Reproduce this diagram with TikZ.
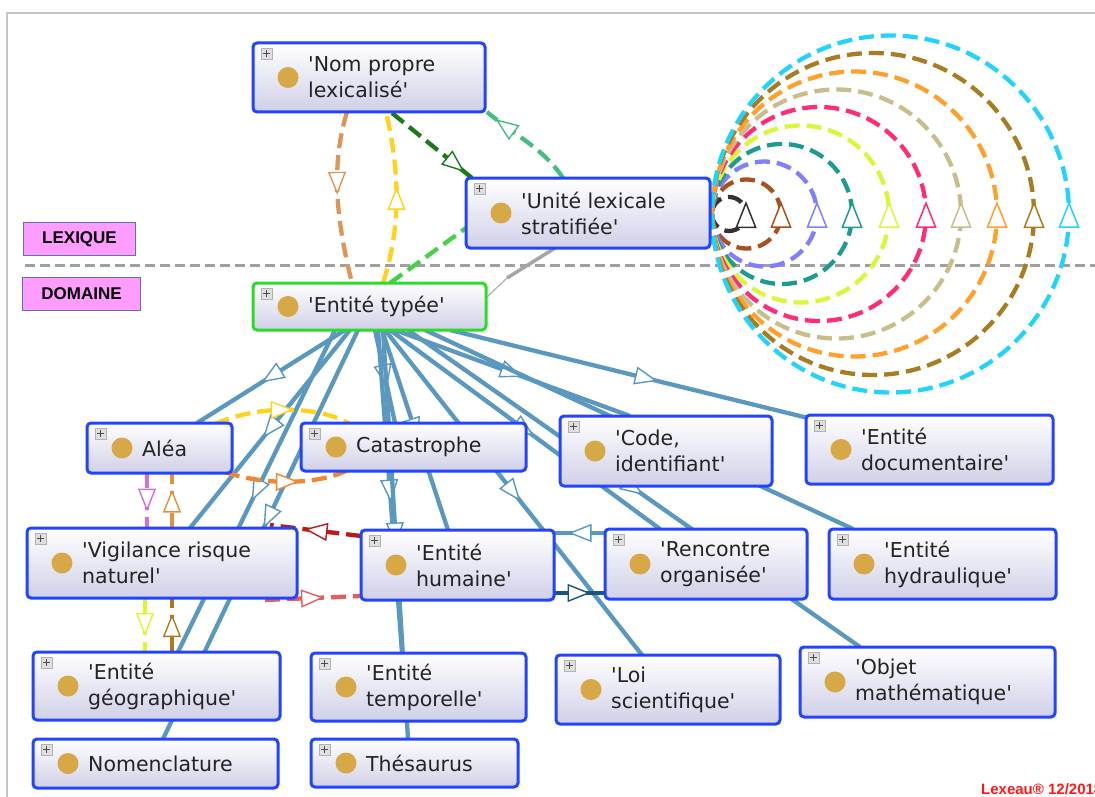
\documentclass[tikz,border=0pt]{standalone}
\usepackage{fontspec}
\usetikzlibrary{arrows.meta,decorations.markings,calc}
\newfontfamily\labf{DejaVu Sans}
\newfontfamily\tagf{Liberation Sans}
\pgfdeclarelayer{bottom}
\pgfdeclarelayer{background}
\pgfsetlayers{bottom,background,main}
\newcommand\q{\textquotesingle}
\definecolor{eblue}{RGB}{90,152,192}
\definecolor{bborder}{RGB}{34,68,255}
\definecolor{gborder}{RGB}{40,220,40}
\definecolor{boxbot}{RGB}{208,208,232}
\definecolor{dotc}{RGB}{214,168,70}
\definecolor{txt}{RGB}{35,35,35}
\definecolor{tagpink}{RGB}{255,156,255}
\definecolor{tagline}{RGB}{96,112,170}
\definecolor{sepgray}{RGB}{160,160,160}
\definecolor{tanc}{RGB}{220,150,90}
\definecolor{yelc}{RGB}{255,210,30}
\definecolor{dgreen}{RGB}{30,120,30}
\definecolor{sgreen}{RGB}{70,190,130}
\definecolor{lgreen}{RGB}{70,210,70}
\definecolor{ggray}{RGB}{165,165,165}
\definecolor{orac}{RGB}{240,135,50}
\definecolor{violc}{RGB}{210,110,225}
\definecolor{ora3}{RGB}{225,145,65}
\definecolor{limec}{RGB}{225,245,40}
\definecolor{brnc}{RGB}{175,120,35}
\definecolor{dred}{RGB}{185,25,25}
\definecolor{salc}{RGB}{225,95,95}
\definecolor{dblue}{RGB}{25,85,125}
\definecolor{la}{RGB}{50,50,50}
\definecolor{lb}{RGB}{170,80,30}
\definecolor{lc}{RGB}{128,128,255}
\definecolor{ld}{RGB}{30,155,145}
\definecolor{le}{RGB}{220,245,55}
\definecolor{lf}{RGB}{255,45,120}
\definecolor{lg}{RGB}{200,190,140}
\definecolor{lh}{RGB}{255,160,45}
\definecolor{li}{RGB}{168,124,32}
\definecolor{lj}{RGB}{34,212,250}
\tikzset{
  obox/.style={rectangle, rounded corners=4pt, line width=3pt, top color=white, bottom color=boxbot, inner sep=0pt, outer sep=0pt},
  pbox/.style={rectangle, minimum size=11pt, inner sep=0pt, fill=gray!25, draw=gray!60, line width=0.6pt},
  plusl/.style={line width=0.9pt, draw=black!70},
  gdot/.style={circle, minimum size=21pt, inner sep=0pt, fill=dotc},
  ltext/.style={font={\labf\fontsize{20.5}{26}\selectfont}, text=txt, align=left, inner sep=0pt},
  tagbox/.style={rectangle, fill=tagpink, draw=tagline, line width=1pt, font={\tagf\bfseries\fontsize{17}{20}\selectfont}, inner sep=0pt, anchor=north west},
  marr/.style={postaction={decorate}, decoration={markings, mark=at position #1 with {\arrow[xshift=11pt]{Triangle[length=23pt,width=18pt,fill=white,line width=1.4pt]}}}},
  larr/.style={postaction={decorate}, decoration={markings, mark=at position #1 with {\arrow[xshift=13pt]{Triangle[length=27pt,width=21pt,fill=white,line width=1.5pt]}}}},
  bl/.style={draw=eblue, line width=4.3pt},
  dsh/.style={line width=4.3pt, dash pattern=on 15pt off 7pt},
  sepl/.style={draw=sepgray, line width=3pt, dash pattern=on 10pt off 5pt},
}
\newcommand\onode[7]{%
  \node[obox, draw=#7, minimum width=#4pt, minimum height=#5pt, anchor=north west] (#1) at (#2,#3) {};
  \node[pbox, anchor=north west] (#1-p) at ($(#1.north west)+(8,5)$) {};
  \draw[plusl] ($(#1-p.center)+(-3.5,0)$) -- ($(#1-p.center)+(3.5,0)$) ($(#1-p.center)+(0,-3.5)$) -- ($(#1-p.center)+(0,3.5)$);
  \node[gdot] (#1-d) at ($(#1.west)+(35,0)$) {};
  \node[ltext, anchor=west] (#1-t) at ($(#1.west)+(55,0)$) {#6};
}
\begin{document}
\begin{tikzpicture}[x=1pt,y=-1pt]
\useasboundingbox (0,0) rectangle (1095,797);
\begin{pgfonlayer}{bottom}
\fill[white] (0,0) rectangle (1095,797);
\draw[gray!45, line width=1.5pt] (7,797) -- (7,13) -- (1095,13);
\end{pgfonlayer}

\onode{np}{253}{43}{232}{69}{\q Nom propre\\lexicalisé\q}{bborder}
\onode{ul}{466}{178}{244}{70}{\q Unité lexicale\\stratifiée\q}{bborder}
\onode{et}{253}{283}{233}{47}{\q Entité typée\q}{gborder}
\onode{alea}{87}{423}{145}{50}{Aléa}{bborder}
\onode{cat}{301}{423}{225}{48}{Catastrophe}{bborder}
\onode{code}{560}{416}{212}{70}{\q Code,\\identifiant\q}{bborder}
\onode{doc}{806}{415}{247}{69}{\q Entité\\documentaire\q}{bborder}
\onode{vig}{27}{528}{270}{70}{\q Vigilance risque\\naturel\q}{bborder}
\onode{hum}{361}{530}{193}{70}{\q Entité\\humaine\q}{bborder}
\onode{ren}{605}{529}{202}{70}{\q Rencontre\\organisée\q}{bborder}
\onode{hyd}{829}{529}{227}{70}{\q Entité\\hydraulique\q}{bborder}
\onode{geo}{33}{652}{247}{68}{\q Entité\\géographique\q}{bborder}
\onode{tem}{311}{653}{215}{68}{\q Entité\\temporelle\q}{bborder}
\onode{loi}{556}{655}{224}{69}{\q Loi\\scientifique\q}{bborder}
\onode{obj}{800}{647}{255}{70}{\q Objet\\mathématique\q}{bborder}
\onode{nom}{33}{739}{245}{49}{Nomenclature}{bborder}
\onode{the}{311}{739}{207}{48}{Thésaurus}{bborder}

\node[tagbox, minimum width=112pt, minimum height=33pt] (lex) at (23,222) {LEXIQUE};
\node[tagbox, minimum width=118pt, minimum height=33pt] (dom) at (22,277) {DOMAINE};
\node[anchor=base west, text=red!90, font={\tagf\bfseries\fontsize{15}{17}\selectfont}, inner sep=0pt] (sig) at (981,794) {Lexeau® 12/2018};

\begin{pgfonlayer}{background}
\coordinate (sepa) at (25,265);
\coordinate (sepb) at (1095,265);
\draw[sepl] (sepa) -- (sepb);
% self loops on Unite lexicale
\foreach \r/\c in {17/la,34.5/lb,52.5/lc,70/ld,88.5/le,107/lf,124.5/lg,142.5/lh,161/li,178.5/lj}
  \draw[dsh, draw=\c, larr=0.5] ($(ul.east)+(2,1)$) arc[start angle=180, end angle=-180, radius=\r];
% blue edges from Entite typee
\draw[bl, marr=0.5] ($(et.south west)+(92,0)$) -- ($(alea.north west)+(110,0)$);
\draw[bl, marr=0.5] ($(et.south west)+(97,0)$) -- ($(vig.north west)+(163,0)$);
\draw[bl, marr=0.5] ($(et.south west)+(82,0)$) -- ($(geo.north west)+(145,0)$);
\draw[bl, marr=0.46] ($(et.south west)+(105,0)$) -- ($(nom.north west)+(130,0)$);
\draw[bl, marr=0.5] ($(et.south west)+(122,0)$) -- ($(cat.north west)+(94,0)$);
\draw[bl, marr=0.5] ($(et.south west)+(129,0)$) -- ($(hum.north west)+(87,0)$);
\draw[bl, marr=0.5] ($(et.south west)+(125,0)$) -- ($(tem.north west)+(91,0)$);
\draw[bl, marr=0.5] ($(et.south west)+(130,0)$) -- ($(the.north west)+(97,0)$);
\draw[bl, marr=0.5] ($(et.south west)+(132,0)$) -- ($(loi.north west)+(86,0)$);
\draw[bl, marr=0.5] ($(et.south west)+(137,0)$) -- ($(ren.north west)+(55,0)$);
\draw[bl, marr=0.5] ($(et.south west)+(142,0)$) -- ($(code.north west)+(70,0)$);
\draw[bl, marr=0.5] ($(et.south west)+(155,0)$) -- ($(obj.north west)+(60,0)$);
\draw[bl, marr=0.5] ($(et.south west)+(172,0)$) -- ($(hyd.north west)+(24,0)$);
\draw[bl, marr=0.55] ($(et.south west)+(197,0)$) -- ($(doc.north west)+(2,3)$);
% between Entite humaine and Rencontre organisee
\draw[bl, marr=0.5] ($(ren.north west)+(0,4)$) -- ($(hum.north east)+(0,3)$);
\draw[draw=dblue, line width=4pt, marr=0.5] ($(hum.south east)+(0,-7)$) -- ($(ren.south west)+(0,-6)$);
% red edges
\draw[dsh, draw=dred, marr=0.5] ($(hum.north west)+(0,6)$) -- ($(vig.north east)+(-27,-3)$);
\draw[dsh, draw=salc, marr=0.5] ($(vig.south east)+(-32,2)$) -- ($(hum.south west)+(0,-4)$);
% Alea / Catastrophe
\draw[dsh, draw=yelc, marr=0.5] ($(alea.north east)+(-17,1)$) .. controls +(45,-20) and +(-30,-18) .. ($(cat.north west)+(49,1)$);
\draw[dsh, draw=orac, marr=0.5] ($(alea.south east)+(-7,-1)$) .. controls +(40,14) and +(-30,16) .. ($(cat.south west)+(49,-2)$);
% short vertical ones
\draw[dsh, draw=violc, marr=0.5] ($(alea.south west)+(60,0)$) -- ($(vig.north west)+(120,0)$);
\draw[dsh, draw=ora3, marr=0.5] ($(vig.north west)+(145,0)$) -- ($(alea.south west)+(85,0)$);
\draw[dsh, draw=limec, marr=0.5] ($(vig.south west)+(118,0)$) -- ($(geo.north west)+(112,0)$);
\draw[dsh, draw=brnc, marr=0.5] ($(geo.north west)+(139,0)$) -- ($(vig.south west)+(145,0)$);
% top part
\draw[dsh, draw=tanc, marr=0.42] ($(np.south west)+(94,0)$) .. controls +(-17,55) and +(-15,-60) .. ($(et.north west)+(99,0)$);
\draw[dsh, draw=yelc, marr=0.5] ($(et.north west)+(130,0)$) .. controls +(18,-55) and +(14,60) .. ($(np.south west)+(133,0)$);
\draw[dsh, draw=dgreen, marr=0.8] ($(np.south west)+(139,1)$) -- ($(ul.north west)+(6,0)$);
\draw[dsh, draw=sgreen, marr=0.78] ($(ul.north west)+(97,0)$) .. controls +(-20,-30) and +(30,25) .. ($(np.south east)+(2,0)$);
\draw[dsh, draw=lgreen] ($(et.north west)+(137,0)$) -- ($(ul.south west)+(0,-20)$);
\coordinate (gk) at (507,278);
\draw[draw=ggray, line width=3.5pt] ($(ul.south west)+(89,0)$) -- (gk);
\draw[draw=ggray, line width=1pt] (gk) -- ($(et.north east)+(1,14)$);
\end{pgfonlayer}
\end{tikzpicture}
\end{document}
